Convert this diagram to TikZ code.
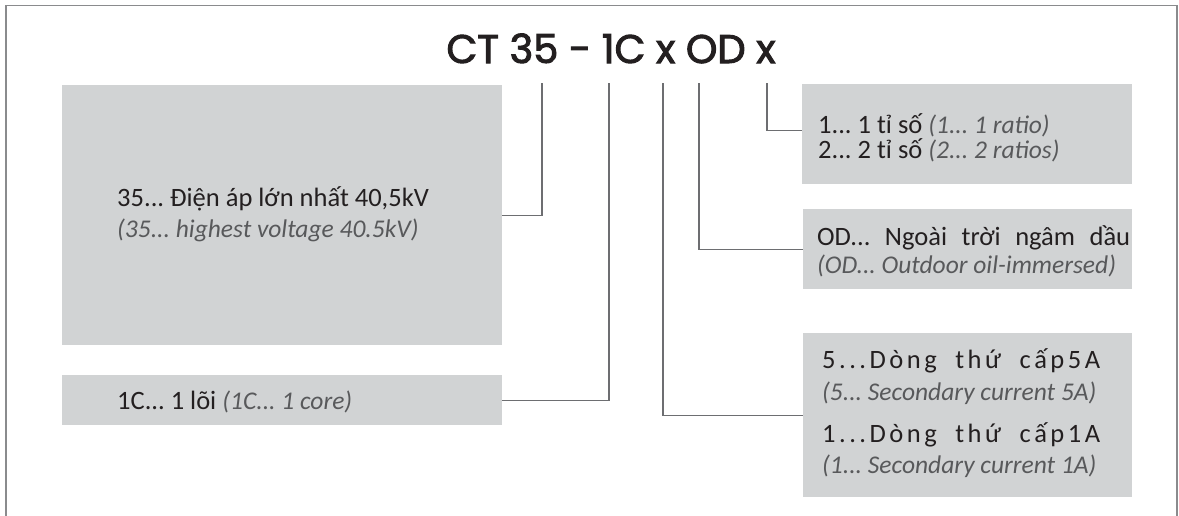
\documentclass[tikz,border=0pt]{standalone}
\usepackage{fontspec}
\setmainfont{Carlito}
\newfontfamily\titlefont{Poppins}[FakeBold=2.5]
\definecolor{boxgray}{HTML}{D1D3D4}
\definecolor{txtdark}{HTML}{231F20}
\definecolor{txtgray}{HTML}{58595B}
\definecolor{linegray}{HTML}{6D6E71}
\definecolor{framegray}{HTML}{8A8B8D}
\frenchspacing
\newcommand{\tk}{\kern3.5pt}
\begin{document}
\begin{tikzpicture}[x=1pt,y=-1pt,
  box/.style={fill=boxgray, draw=none, inner sep=0pt, anchor=north west},
  vt/.style={anchor=base west, inner sep=0pt, text=txtdark, font=\fontsize{26.5}{28}\selectfont},
  en/.style={anchor=base west, inner sep=0pt, text=txtgray, font=\fontsize{25.5}{28}\selectfont\itshape},
  conn/.style={draw=linegray, line width=1.1pt},
  frameline/.style={draw=framegray, line width=1.7pt}]
\useasboundingbox (0,0) rectangle (1179,515);
\draw[frameline] (6,520) -- (6,5.5) -- (1177,5.5) -- (1177,520);
% title
\node[anchor=base, inner sep=0pt, text=txtdark, font=\titlefont\fontsize{40}{44}\selectfont] (title) at (611,63) {CT 35 - 1C x OD x};
% boxes
\node[box, minimum width=440pt, minimum height=260pt] (volt) at (62,85) {};
\node[box, minimum width=440pt, minimum height=50pt] (core) at (62,375) {};
\node[box, minimum width=330pt, minimum height=100pt] (ratio) at (802,84) {};
\node[box, minimum width=329pt, minimum height=80pt] (od) at (803,209) {};
\node[box, minimum width=329pt, minimum height=164pt] (sec) at (803,333) {};
% texts
\node[vt] (voltA) at (117,206) {35... Điện áp lớn nhất 40,5kV};
\node[en] (voltB) at (117,237) {(35... highest voltage 40.5kV)};
\node[vt] (coreA) at (117,409) {1C... 1 lõi {\color{txtgray}\fontsize{25.5}{28}\selectfont\itshape(1C... 1 core)}};
\node[vt] (ratioA) at (818,133) {1... 1 tỉ số {\color{txtgray}\fontsize{25.5}{28}\selectfont\itshape(1... 1 ratio)}};
\node[vt] (ratioB) at (818,158) {2... 2 tỉ số {\color{txtgray}\fontsize{25.5}{28}\selectfont\itshape(2... 2 ratios)}};
\node[vt] (odA) at (817,245) {\makebox[313pt][s]{OD... Ngoài trời ngâm dầu}};
\node[en] (odB) at (817,273) {(OD... Outdoor oil-immersed)};
\node[vt] (secA) at (822,368) {\makebox[278pt][s]{5\tk.\tk.\tk.\tk D\tk ò\tk n\tk g\hfil t\tk h\tk ứ\hfil c\tk ấ\tk p\tk 5\tk A}};
\node[en] (secB) at (822,400) {(5... Secondary current 5A)};
\node[vt] (secC) at (822,442) {\makebox[278pt][s]{1\tk.\tk.\tk.\tk D\tk ò\tk n\tk g\hfil t\tk h\tk ứ\hfil c\tk ấ\tk p\tk 1\tk A}};
\node[en] (secD) at (822,473) {(1... Secondary current 1A)};
% connectors
\coordinate (c1) at (542,83);
\coordinate (c2) at (609,83);
\coordinate (c3) at (663,83);
\coordinate (c4) at (699,83);
\coordinate (c5) at (767,83);
\draw[conn] (c1) |- (volt.east);
\draw[conn] (c2) |- (core.east);
\draw[conn] (c3) |- (sec.west);
\draw[conn] (c4) |- (od.west);
\draw[conn] (c5) |- ([yshift=4pt]ratio.west);
\end{tikzpicture}
\end{document}
